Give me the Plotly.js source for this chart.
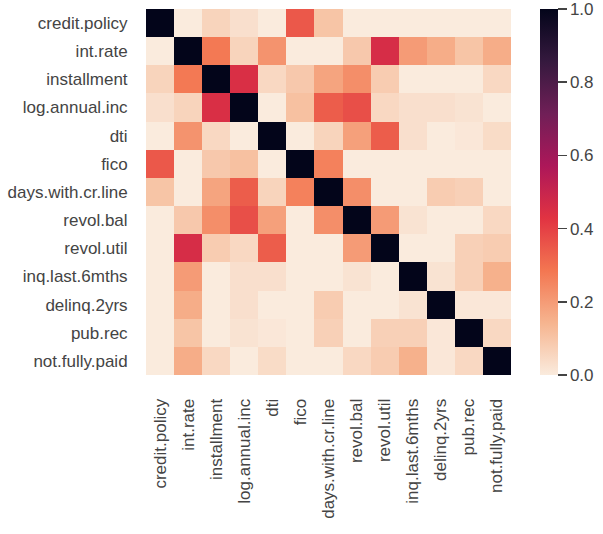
<!DOCTYPE html>
<html>
<head>
<meta charset="utf-8">
<script src="https://cdn.plot.ly/plotly-3.0.1.min.js"></script>
<style>
  html, body { margin: 0; padding: 0; background: #fff; }
  #chart { width: 603px; height: 534px; }
</style>
</head>
<body>
<div id="chart"></div>
<script>
// Loan features, in matrix order
const features = [
  "credit.policy", "int.rate", "installment", "log.annual.inc", "dti", "fico",
  "days.with.cr.line", "revol.bal", "revol.util", "inq.last.6mths",
  "delinq.2yrs", "pub.rec", "not.fully.paid"
];

// Pairwise Pearson correlations (one row per feature)
const corrCreditPolicy = [ 1.00, -0.29,  0.06,  0.03, -0.09,  0.35,  0.10, -0.19, -0.10, -0.54, -0.08, -0.05, -0.16];
const corrIntRate      = [-0.29,  1.00,  0.28,  0.06,  0.22, -0.71, -0.12,  0.09,  0.46,  0.20,  0.16,  0.10,  0.16];
const corrInstallment  = [ 0.06,  0.28,  1.00,  0.45,  0.05,  0.09,  0.18,  0.23,  0.08, -0.01,  0.00, -0.03,  0.05];
const corrLogAnnualInc = [ 0.03,  0.06,  0.45,  1.00, -0.05,  0.11,  0.34,  0.37,  0.05,  0.03,  0.03,  0.02, -0.03];
const corrDti          = [-0.09,  0.22,  0.05, -0.05,  1.00, -0.24,  0.06,  0.19,  0.34,  0.03, -0.02,  0.01,  0.04];
const corrFico         = [ 0.35, -0.71,  0.09,  0.11, -0.24,  1.00,  0.26, -0.02, -0.54, -0.19, -0.22, -0.15, -0.15];
const corrDaysCrLine   = [ 0.10, -0.12,  0.18,  0.34,  0.06,  0.26,  1.00,  0.23, -0.02, -0.04,  0.08,  0.07, -0.03];
const corrRevolBal     = [-0.19,  0.09,  0.23,  0.37,  0.19, -0.02,  0.23,  1.00,  0.20,  0.02, -0.03, -0.03,  0.05];
const corrRevolUtil    = [-0.10,  0.46,  0.08,  0.05,  0.34, -0.54, -0.02,  0.20,  1.00, -0.01, -0.04,  0.07,  0.08];
const corrInqLast6     = [-0.54,  0.20, -0.01,  0.03,  0.03, -0.19, -0.04,  0.02, -0.01,  1.00,  0.02,  0.07,  0.15];
const corrDelinq2yrs   = [-0.08,  0.16,  0.00,  0.03, -0.02, -0.22,  0.08, -0.03, -0.04,  0.02,  1.00,  0.01,  0.01];
const corrPubRec       = [-0.05,  0.10, -0.03,  0.02,  0.01, -0.15,  0.07, -0.03,  0.07,  0.07,  0.01,  1.00,  0.05];
const corrNotFullyPaid = [-0.16,  0.16,  0.05, -0.03,  0.04, -0.15, -0.03,  0.05,  0.08,  0.15,  0.01,  0.05,  1.00];

const corrRows = [
  corrCreditPolicy, corrIntRate, corrInstallment, corrLogAnnualInc, corrDti,
  corrFico, corrDaysCrLine, corrRevolBal, corrRevolUtil, corrInqLast6,
  corrDelinq2yrs, corrPubRec, corrNotFullyPaid
];

// Colorbar ticks
const cbTicks = [0, 0.2, 0.4, 0.6, 0.8, 1.0];
const cbTickText = ["0.0", "0.2", "0.4", "0.6", "0.8", "1.0"];

// Reversed "rocket" palette: cream -> orange -> crimson -> purple -> near black
const rocketR = [
  [0.000, "#faebdd"],
  [0.143, "#f6b48f"],
  [0.286, "#f37651"],
  [0.429, "#e13342"],
  [0.571, "#ad1759"],
  [0.714, "#701f57"],
  [0.857, "#35193e"],
  [1.000, "#03051a"]
];

const textColor = "#444444";
const font = { family: "Liberation Sans, Arial, sans-serif", size: 17, color: textColor };

const trace = {
  type: "heatmap",
  x: features,
  y: features,
  z: corrRows,
  zmin: 0,
  zmax: 1,
  colorscale: rocketR,
  hoverinfo: "skip",
  colorbar: {
    x: 1.0795,
    xanchor: "left",
    xpad: 0,
    y: 0.5,
    yanchor: "middle",
    len: 1,
    lenmode: "fraction",
    ypad: 0,
    thickness: 18,
    thicknessmode: "pixels",
    outlinewidth: 0,
    ticks: "outside",
    ticklen: 9,
    tickwidth: 1.5,
    tickcolor: textColor,
    tickvals: cbTicks,
    ticktext: cbTickText,
    ticklabeloverflow: "allow",
    tickfont: font
  }
};

const layout = {
  width: 603,
  height: 534,
  margin: { l: 146, r: 92, t: 9, b: 159, pad: 0 },
  paper_bgcolor: "#ffffff",
  plot_bgcolor: "#ffffff",
  font: font,
  xaxis: {
    type: "category",
    tickangle: -90,
    ticks: "outside",
    ticklen: 16,
    tickcolor: "rgba(0,0,0,0)",
    tickfont: font,
    showgrid: false,
    zeroline: false,
    showline: false,
    fixedrange: true
  },
  yaxis: {
    type: "category",
    autorange: "reversed",
    ticks: "outside",
    ticklen: 14,
    tickcolor: "rgba(0,0,0,0)",
    tickfont: font,
    showgrid: false,
    zeroline: false,
    showline: false,
    fixedrange: true
  }
};

Plotly.newPlot("chart", [trace], layout, { staticPlot: true, displayModeBar: false });
</script>
</body>
</html>
